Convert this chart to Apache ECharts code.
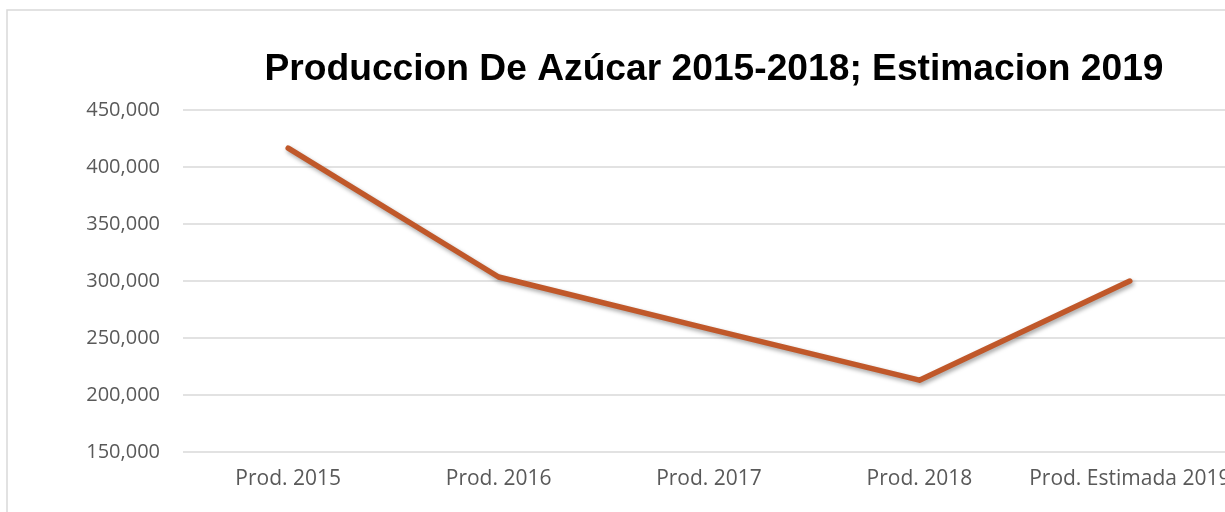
<!DOCTYPE html>
<html>
<head>
<meta charset="utf-8">
<script src="https://cdn.jsdelivr.net/npm/echarts@6/dist/echarts.min.js"></script>
<style>
  html, body { margin: 0; padding: 0; background: #fff; overflow: hidden; }
  #main { width: 1240px; height: 512px; }
</style>
</head>
<body>
<div id="main"></div>
<script>
const categories = ['Prod. 2015', 'Prod. 2016', 'Prod. 2017', 'Prod. 2018', 'Prod. Estimada 2019']
const production = [416500, 303500, 258000, 213000, 300000]
const yMin = 150000
const yMax = 450000
const yStep = 50000

// the plot runs past the right edge of the window, as in the source picture
const chart = echarts.init(document.getElementById('main'))
chart.setOption({
    animation: false,
    backgroundColor: '#ffffff',
    graphic: [
        {
            type: 'rect',
            shape: { x: 7, y: 10, width: 1400, height: 700 },
            style: { fill: 'none', stroke: '#d9d9d9', lineWidth: 1.5 }
        }
    ],
    title: {
        text: 'Produccion De Azúcar 2015-2018; Estimacion 2019',
        left: 709,
        top: 46,
        textAlign: 'center',
        textStyle: {
            fontFamily: 'Liberation Sans, Arial, sans-serif',
            fontWeight: 'bold',
            fontSize: 37.2,
            color: '#000000'
        }
    },
    grid: {
        left: 183,
        top: 110,
        right: 5,
        bottom: 60,
        containLabel: false
    },
    xAxis: {
        type: 'category',
        data: categories,
        boundaryGap: true,
        axisLine: { show: false },
        axisTick: { show: false },
        axisLabel: {
            interval: 0,
            color: '#595959',
            fontFamily: 'Open Sans, sans-serif',
            fontSize: 21,
            margin: 17
        }
    },
    yAxis: {
        type: 'value',
        min: yMin,
        max: yMax,
        interval: yStep,
        axisLine: { show: false },
        axisTick: { show: false },
        splitLine: { lineStyle: { color: '#d9d9d9', width: 1.5 } },
        axisLabel: {
            color: '#595959',
            fontFamily: 'Open Sans, sans-serif',
            fontSize: 20,
            margin: 23,
            formatter: v => v.toLocaleString('en-US')
        }
    },
    series: [
        {
            type: 'line',
            data: production,
            showSymbol: false,
            lineStyle: {
                color: '#c0582a',
                width: 5.5,
                cap: 'round',
                join: 'round',
                shadowColor: 'rgba(0,0,0,0.35)',
                shadowBlur: 4,
                shadowOffsetX: 1.5,
                shadowOffsetY: 2.5
            }
        }
    ]
})
</script>
</body>
</html>
